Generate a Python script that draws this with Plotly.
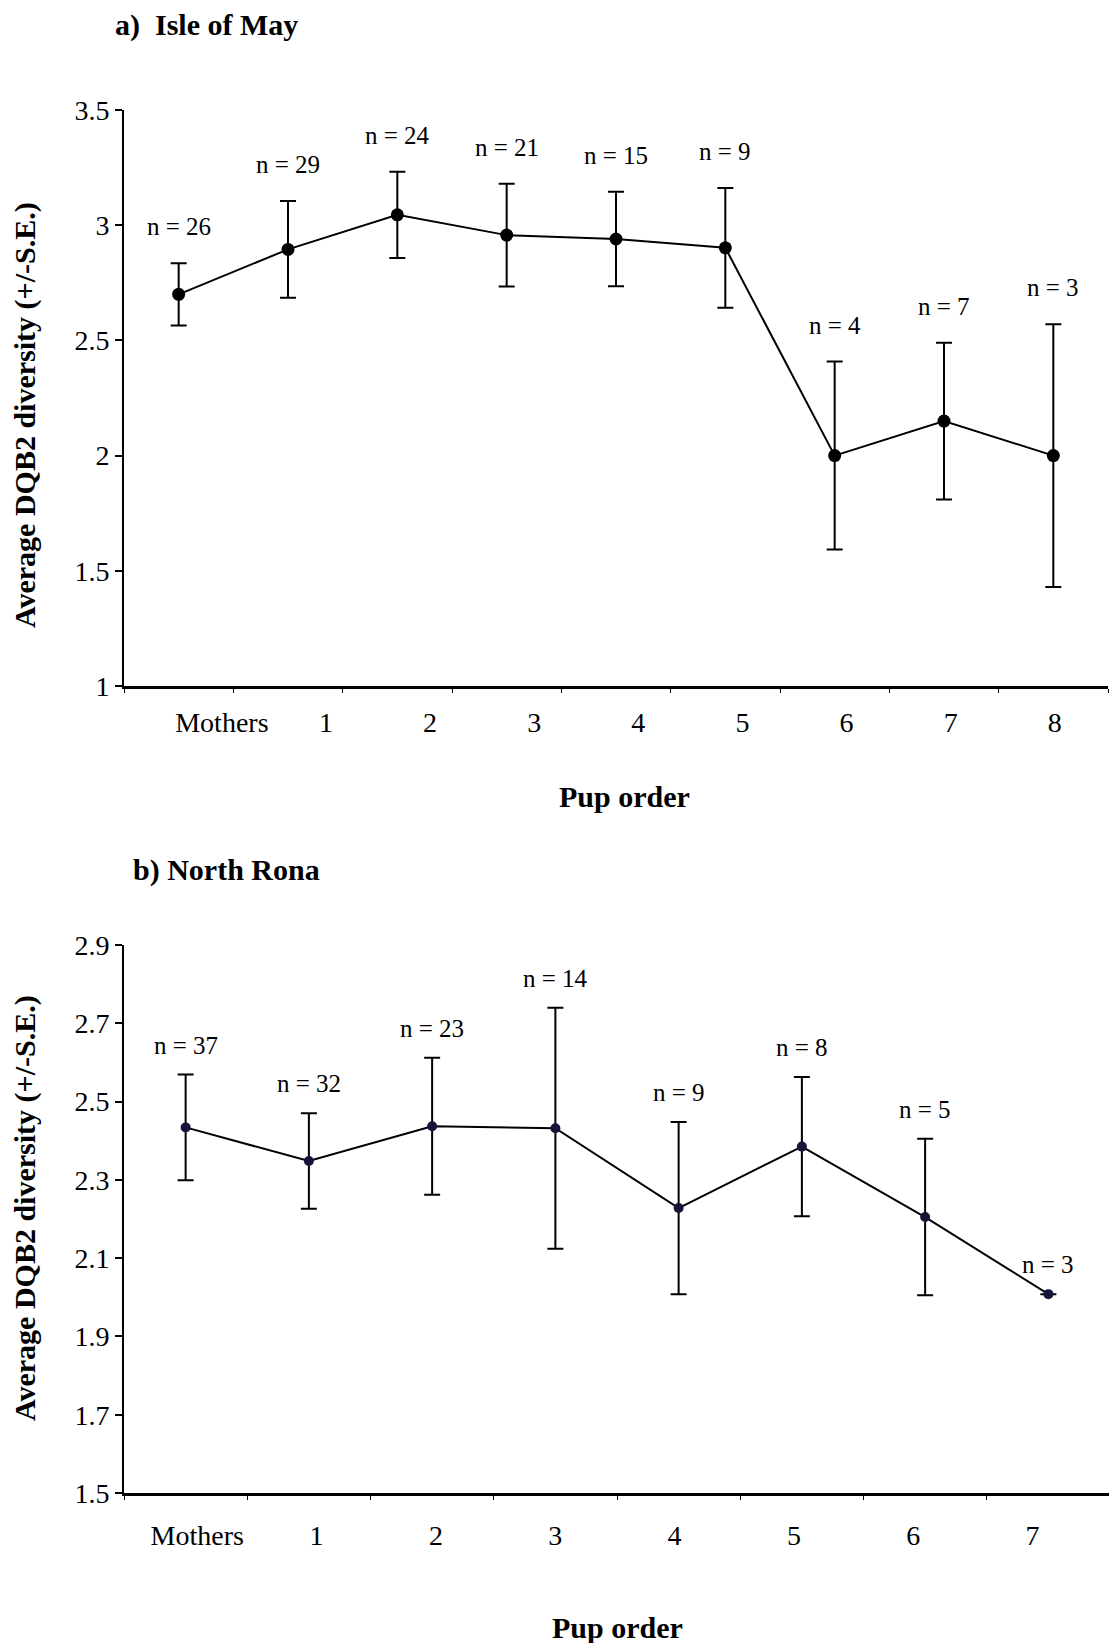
import plotly.graph_objects as go

# ---- data: panel a (Isle of May) ----
cats_a = ["Mothers", "1", "2", "3", "4", "5", "6", "7", "8"]
mean_a = [2.70, 2.895, 3.045, 2.957, 2.94, 2.902, 2.00, 2.15, 2.00]
se_a = [0.135, 0.21, 0.187, 0.223, 0.205, 0.26, 0.408, 0.34, 0.57]
n_a = [26, 29, 24, 21, 15, 9, 4, 7, 3]

# ---- data: panel b (North Rona) ----
cats_b = ["Mothers", "1", "2", "3", "4", "5", "6", "7"]
mean_b = [2.434, 2.348, 2.437, 2.432, 2.228, 2.385, 2.205, 2.008]
se_b = [0.135, 0.122, 0.175, 0.308, 0.22, 0.178, 0.2, 0.0]
n_b = [37, 32, 23, 14, 9, 8, 5, 3]

yticks_a = [1, 1.5, 2, 2.5, 3, 3.5]
yticks_b = [1.5, 1.7, 1.9, 2.1, 2.3, 2.5, 2.7, 2.9]

SERIF = "Liberation Serif, Times New Roman, serif"
W, H = 1117, 1643
OFF = 8  # page body offset


def fx(px):
    return (px - OFF) / W


def fy(py):
    return 1 - (py - OFF) / H


fig = go.Figure()

fig.add_trace(go.Scatter(
    x=cats_a, y=mean_a, mode="lines+markers",
    line=dict(color="black", width=2),
    marker=dict(color="black", size=13),
    error_y=dict(type="data", array=se_a, visible=True, color="black",
                 thickness=2, width=8),
    xaxis="x", yaxis="y", showlegend=False, cliponaxis=False))

fig.add_trace(go.Scatter(
    x=cats_b, y=mean_b, mode="lines+markers",
    line=dict(color="black", width=2),
    marker=dict(color="#15153a", size=10),
    error_y=dict(type="data", array=se_b, visible=True, color="black",
                 thickness=2, width=8),
    xaxis="x2", yaxis="y2", showlegend=False, cliponaxis=False))

# invisible carriers for the category label axes (labels are spaced a bit
# tighter than the points in the original figure)
fig.add_trace(go.Scatter(x=cats_a, y=mean_a, mode="markers", marker=dict(opacity=0),
                         hoverinfo="skip", xaxis="x3", yaxis="y", showlegend=False))
fig.add_trace(go.Scatter(x=cats_b, y=mean_b, mode="markers", marker=dict(opacity=0),
                         hoverinfo="skip", xaxis="x4", yaxis="y2", showlegend=False))

annotations = []
for c, m, s, n in zip(cats_a, mean_a, se_a, n_a):
    annotations.append(dict(x=c, y=m + s, xref="x", yref="y", text=f"n = {n}",
                            showarrow=False, yanchor="bottom", yshift=21,
                            font=dict(family=SERIF, size=25, color="black")))
for c, m, s, n in zip(cats_b, mean_b, se_b, n_b):
    annotations.append(dict(x=c, y=m + s, xref="x2", yref="y2", text=f"n = {n}",
                            showarrow=False, yanchor="bottom", yshift=14,
                            font=dict(family=SERIF, size=25, color="black")))

bold = dict(family=SERIF, size=30, color="black")
annotations += [
    dict(text="<b>a)  Isle of May</b>", x=fx(113), y=fy(25), xref="paper", yref="paper",
         xanchor="left", yanchor="middle", showarrow=False, font=bold),
    dict(text="<b>b) North Rona</b>", x=fx(131), y=fy(870), xref="paper", yref="paper",
         xanchor="left", yanchor="middle", showarrow=False, font=bold),
    dict(text="<b>Average DQB2 diversity (+/-S.E.)</b>", x=fx(25), y=fy(415),
         xref="paper", yref="paper", textangle=-90, showarrow=False, font=bold,
         xanchor="center", yanchor="middle"),
    dict(text="<b>Average DQB2 diversity (+/-S.E.)</b>", x=fx(25), y=fy(1208),
         xref="paper", yref="paper", textangle=-90, showarrow=False, font=bold,
         xanchor="center", yanchor="middle"),
    dict(text="<b>Pup order</b>", x=fx(624), y=fy(796), xref="paper", yref="paper",
         showarrow=False, font=bold, xanchor="center", yanchor="middle"),
    dict(text="<b>Pup order</b>", x=fx(617), y=fy(1627), xref="paper", yref="paper",
         showarrow=False, font=bold, xanchor="center", yanchor="middle"),
]

tickfont = dict(family=SERIF, size=28, color="black")
dom_a = [fx(124), fx(1108)]
dom_b = [fx(124), fx(1110)]

fig.update_layout(
    width=W, height=H,
    margin=dict(l=0, r=0, t=0, b=0, pad=0),
    paper_bgcolor="white", plot_bgcolor="white",
    annotations=annotations,
    xaxis=dict(domain=dom_a, anchor="y", type="category", automargin=False,
               range=[-0.5, 8.5], showline=True, linecolor="black", linewidth=3,
               ticks="outside", tickson="boundaries", ticklen=4, tickcolor="black",
               showgrid=False, zeroline=False, showticklabels=False),
    xaxis3=dict(domain=dom_a, anchor="y", overlaying="x", side="bottom", type="category",
                automargin=False, range=[-0.94, 8.511], showline=False, ticks="",
                showgrid=False, zeroline=False, tickfont=tickfont, ticklabelstandoff=17),
    yaxis=dict(domain=[fy(686), fy(110)], anchor="x", automargin=False,
               range=[1, 3.5], tickvals=yticks_a, ticktext=[f"{v:g}" for v in yticks_a],
               showline=True, linecolor="black", linewidth=2,
               ticks="outside", ticklen=7, tickcolor="black", tickwidth=2,
               showgrid=False, zeroline=False, tickfont=tickfont),
    xaxis2=dict(domain=dom_b, anchor="y2", type="category", automargin=False,
                range=[-0.5, 7.5], showline=True, linecolor="black", linewidth=3,
                ticks="outside", tickson="boundaries", ticklen=4, tickcolor="black",
                showgrid=False, zeroline=False, showticklabels=False),
    xaxis4=dict(domain=dom_b, anchor="y2", overlaying="x2", side="bottom", type="category",
                automargin=False, range=[-0.614, 7.649], showline=False, ticks="",
                showgrid=False, zeroline=False, tickfont=tickfont, ticklabelstandoff=23),
    yaxis2=dict(domain=[fy(1493), fy(945)], anchor="x2", automargin=False,
                range=[1.5, 2.9], tickvals=yticks_b, ticktext=[f"{v:.1f}" for v in yticks_b],
                showline=True, linecolor="black", linewidth=2,
                ticks="outside", ticklen=7, tickcolor="black", tickwidth=2,
                showgrid=False, zeroline=False, tickfont=tickfont),
)

fig.write_html("out.html")
